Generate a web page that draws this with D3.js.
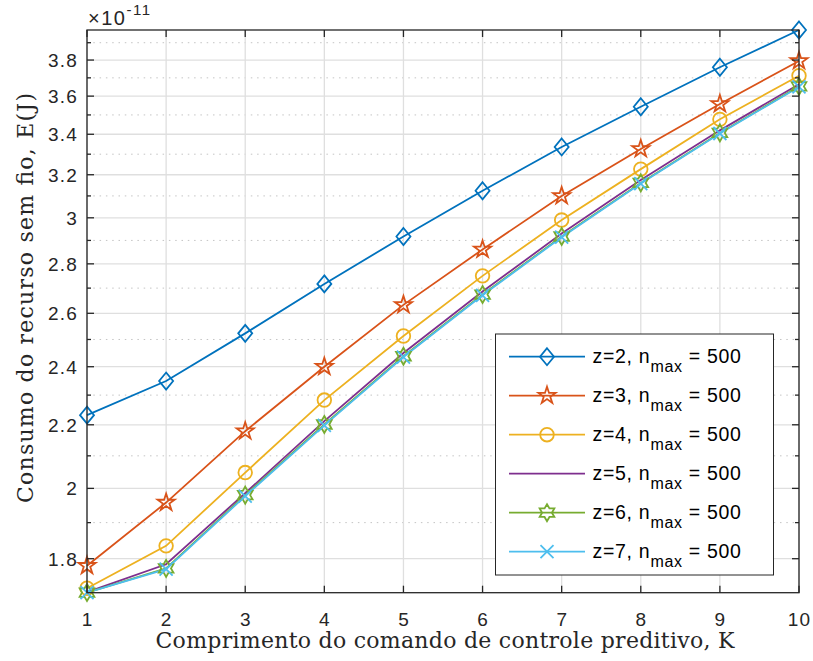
<!DOCTYPE html>
<html><head><meta charset="utf-8">
<script src="https://cdn.jsdelivr.net/npm/d3@7"></script>
<style>body{margin:0;background:#fff;} svg{display:block;}</style>
</head><body>
<script>
// Data (values in units of 1e-11 J)
const K = [1,2,3,4,5,6,7,8,9,10];
const z2 = [2.232, 2.349, 2.523, 2.717, 2.917, 3.124, 3.336, 3.543, 3.759, 3.975];
const z3 = [1.781, 1.958, 2.179, 2.400, 2.633, 2.861, 3.100, 3.326, 3.558, 3.795];
const z4 = [1.722, 1.835, 2.048, 2.283, 2.513, 2.750, 2.990, 3.227, 3.477, 3.712];
const z5 = [1.712, 1.785, 1.986, 2.212, 2.450, 2.686, 2.930, 3.175, 3.420, 3.665];
const z6 = [1.711, 1.774, 1.980, 2.201, 2.438, 2.674, 2.917, 3.161, 3.407, 3.653];
const z7 = [1.7106, 1.772, 1.977, 2.198, 2.435, 2.671, 2.914, 3.158, 3.404, 3.650];
const seriesNames = ["z=2","z=3","z=4","z=5","z=6","z=7"];
const majorTicks = [1.8,2,2.2,2.4,2.6,2.8,3,3.2,3.4,3.6,3.8];
const minorTicks = [1.9,2.1,2.3,2.5,2.7,2.9,3.1,3.3,3.5,3.7,3.9];
const xLabel = "Comprimento do comando de controle preditivo, K";
const yLabel = "Consumo do recurso sem fio, E(J)";

const colors = ["#0072BD","#D95319","#EDB120","#7E2F8E","#77AC30","#4DBEEE"];
const markers = ["diamond","pentagram","circle","none","hexagram","x"];
const allSeries = [z2,z3,z4,z5,z6,z7];

const W = 813, H = 661;
const m = {left:87, top:30, right:14, bottom:68.3};
const svg = d3.select("body").append("svg").attr("width",W).attr("height",H)
  .style("font-family","'Liberation Sans', Arial, sans-serif");

const allVals = allSeries.flat();
const x = d3.scaleLinear().domain([1,10]).range([m.left, W-m.right]);
const y = d3.scaleLog().domain(d3.extent(allVals)).range([H-m.bottom, m.top]);

const x0 = m.left, x1 = W-m.right, y0 = H-m.bottom, y1 = m.top;
const minorIn = minorTicks.filter(v=>v<=y.domain()[1]);

// grid
const g = svg.append("g");
g.selectAll(".ymin").data(minorIn).join("line")
  .attr("x1",x0).attr("x2",x1).attr("y1",d=>y(d)).attr("y2",d=>y(d))
  .attr("stroke","#c4c4c4").attr("stroke-width",1).attr("stroke-dasharray","1.5,4.8");
g.selectAll(".ymaj").data(majorTicks).join("line")
  .attr("x1",x0).attr("x2",x1).attr("y1",d=>y(d)).attr("y2",d=>y(d))
  .attr("stroke","#dfdfdf").attr("stroke-width",1.3);
g.selectAll(".xmaj").data(K).join("line")
  .attr("x1",d=>x(d)).attr("x2",d=>x(d)).attr("y1",y0).attr("y2",y1)
  .attr("stroke","#dfdfdf").attr("stroke-width",1.3);

// markers
function markerPath(type){
  if(type==="diamond") return "M0,-8.5 L7,0 L0,8.5 L-7,0 Z";
  if(type==="pentagram"){
    let p=[]; const R=9, r=R*0.382;
    for(let i=0;i<10;i++){const a=-Math.PI/2+i*Math.PI/5; const rr=i%2?r:R; p.push([rr*Math.cos(a), rr*Math.sin(a)]);}
    return "M"+p.map(d=>d.join(",")).join("L")+"Z";
  }
  if(type==="hexagram"){
    let p=[]; const R=8.5, r=R*0.577;
    for(let i=0;i<12;i++){const a=-Math.PI/2+i*Math.PI/6; const rr=i%2?r:R; p.push([rr*Math.cos(a), rr*Math.sin(a)]);}
    return "M"+p.map(d=>d.join(",")).join("L")+"Z";
  }
  if(type==="circle") return d3.symbol(d3.symbolCircle, Math.PI*6.8*6.8)();
  if(type==="x") return "M-6.5,-6.5L6.5,6.5M-6.5,6.5L6.5,-6.5";
  return null;
}

const line = d3.line().x((d,i)=>x(K[i])).y(d=>y(d));
const plot = svg.append("g");
allSeries.forEach((s,si)=>{
  plot.append("path").datum(s).attr("d",line).attr("fill","none")
    .attr("stroke",colors[si]).attr("stroke-width",1.8);
});
allSeries.forEach((s,si)=>{
  const mp = markerPath(markers[si]);
  if(!mp) return;
  plot.selectAll(null).data(s).join("path")
    .attr("transform",(d,i)=>`translate(${x(K[i])},${y(d)})`)
    .attr("d",mp).attr("fill","none").attr("stroke",colors[si]).attr("stroke-width",1.8);
});

// axes box and ticks
const ax = svg.append("g").attr("stroke","#262626").attr("stroke-width",1.3);
ax.append("rect").attr("x",x0).attr("y",y1).attr("width",x1-x0).attr("height",y0-y1).attr("fill","none");
const tl = 7, tm = 4;
K.forEach(k=>{
  ax.append("line").attr("x1",x(k)).attr("x2",x(k)).attr("y1",y0).attr("y2",y0-tl);
  ax.append("line").attr("x1",x(k)).attr("x2",x(k)).attr("y1",y1).attr("y2",y1+tl);
});
majorTicks.forEach(v=>{
  ax.append("line").attr("x1",x0).attr("x2",x0+tl).attr("y1",y(v)).attr("y2",y(v));
  ax.append("line").attr("x1",x1).attr("x2",x1-tl).attr("y1",y(v)).attr("y2",y(v));
});
minorIn.forEach(v=>{
  ax.append("line").attr("x1",x0).attr("x2",x0+tm).attr("y1",y(v)).attr("y2",y(v));
  ax.append("line").attr("x1",x1).attr("x2",x1-tm).attr("y1",y(v)).attr("y2",y(v));
});

// tick labels
const tfs = 19;
svg.append("g").selectAll("text").data(K).join("text")
  .attr("x",d=>x(d)+0.6).attr("y",y0+33).attr("text-anchor","middle")
  .attr("font-size",tfs).attr("letter-spacing","1.2px").attr("fill","#262626").text(d=>d);
svg.append("g").selectAll("text").data(majorTicks).join("text")
  .attr("x",x0-9).attr("y",d=>y(d)).attr("dy","0.36em").attr("text-anchor","end")
  .attr("font-size",tfs).attr("letter-spacing","1.2px").attr("fill","#262626").text(d=>d3.format("")(d));

// exponent
const ex = svg.append("text").attr("x",x0+1).attr("y",25).attr("font-size",20)
  .attr("letter-spacing","1.5px").attr("fill","#262626");
ex.append("tspan").text("\u00d710");
ex.append("tspan").attr("font-size",15).attr("dy",-10).text("-11");

// axis labels
const serif = "'DejaVu Serif', 'Liberation Serif', serif";
svg.append("text").attr("x",445).attr("y",648).attr("text-anchor","middle")
  .attr("font-family",serif).attr("font-size",22)
  .attr("textLength",579).attr("lengthAdjust","spacing")
  .attr("fill","#262626").text(xLabel);
svg.append("text").attr("transform",`translate(33,298) rotate(-90)`)
  .attr("text-anchor","middle")
  .attr("font-family",serif).attr("font-size",22)
  .attr("textLength",410).attr("lengthAdjust","spacing")
  .attr("fill","#262626").text(yLabel);

// legend
const lg = svg.append("g").attr("transform","translate(495.5,334)");
lg.append("rect").attr("width",278).attr("height",241).attr("fill","#fff")
  .attr("stroke","#262626").attr("stroke-width",1);
seriesNames.forEach((nm,i)=>{
  const ly = 22.7 + i*39;
  lg.append("line").attr("x1",13.5).attr("x2",89.5).attr("y1",ly).attr("y2",ly)
    .attr("stroke",colors[i]).attr("stroke-width",1.8);
  const mp = markerPath(markers[i]);
  if(mp) lg.append("path").attr("transform",`translate(51.5,${ly})`).attr("d",mp)
    .attr("fill","none").attr("stroke",colors[i]).attr("stroke-width",1.8);
  const t = lg.append("text").attr("x",97).attr("y",ly+6.5).attr("font-size",19.5)
    .attr("letter-spacing","0.7px").attr("fill","#000");
  t.append("tspan").text(nm+", n");
  t.append("tspan").attr("font-size",16).attr("dy",9).text("max");
  t.append("tspan").attr("dy",-9).text(" = 500");
});
</script>
</body></html>
